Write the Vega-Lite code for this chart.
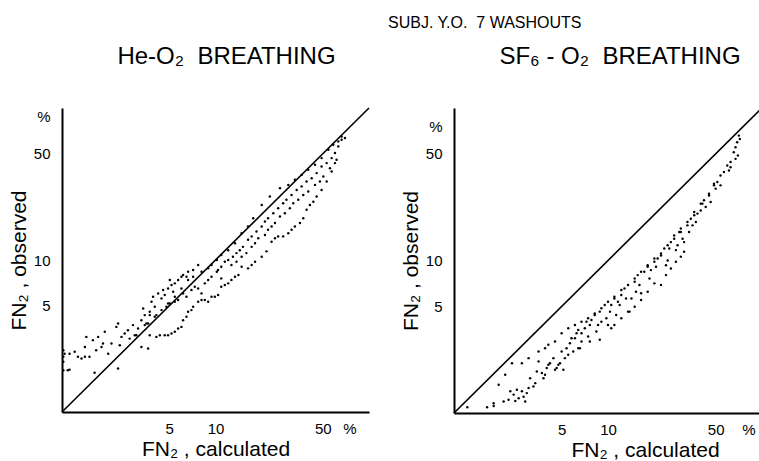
{
  "$schema": "https://vega.github.io/schema/vega-lite/v6.json",
  "background": "white",
  "padding": {"left": 8, "top": 14, "right": 0, "bottom": 0},
  "title": {"text": "SUBJ. Y.O.\u00a0 7 WASHOUTS", "anchor": "middle", "dx": 98, "fontSize": 16, "font": "Liberation Sans", "fontWeight": "normal", "color": "black", "offset": 14},
  "config": {
    "view": {"stroke": null},
    "font": "Liberation Sans",
    "title": {"font": "Liberation Sans", "fontWeight": "normal", "color": "black"},
    "axis": {"domainColor": "black", "domainWidth": 2, "ticks": false, "grid": false, "labelFontSize": 15, "labelColor": "black", "labelPadding": 9, "labelOverlap": false, "labelFlush": false, "titleFontSize": 21, "titleFontWeight": "normal", "titleColor": "black", "labelFont": "Liberation Sans", "titleFont": "Liberation Sans"},
    "axisY": {"labelPadding": 12}
  },
  "spacing": 85,
  "bounds": "flush",
  "datasets": {
    "diag": [{"x": 1, "y": 1}, {"x": 100, "y": 100}],
    "heo2": [
      {"x":1.02,"y":2.55},{"x":1.02,"y":2.31},{"x":1.02,"y":2.14},{"x":1.02,"y":1.88},{"x":1.04,"y":2.42},{"x":1.12,"y":1.90},{"x":1.12,"y":2.42},{"x":1.21,"y":2.49},{"x":1.27,"y":2.31},{"x":1.34,"y":2.25},{"x":1.41,"y":2.31},{"x":1.41,"y":2.68},{"x":1.44,"y":3.12},{"x":1.51,"y":2.31},{"x":1.59,"y":2.97},{"x":1.67,"y":2.55},{"x":1.72,"y":3.12},{"x":1.81,"y":2.68},{"x":1.85,"y":2.82},{"x":1.90,"y":3.37},{"x":2.00,"y":2.42},{"x":2.10,"y":2.82},{"x":2.26,"y":3.63},{"x":2.32,"y":3.82},{"x":2.38,"y":2.75},{"x":2.44,"y":3.12},{"x":2.56,"y":3.28},{"x":2.69,"y":3.45},{"x":2.76,"y":3.04},{"x":2.90,"y":3.73},{"x":3.05,"y":3.20},{"x":3.13,"y":3.54},{"x":3.29,"y":4.02},{"x":3.38,"y":4.80},{"x":3.46,"y":4.34},{"x":3.64,"y":3.82},{"x":3.73,"y":4.56},{"x":3.83,"y":5.31},{"x":3.92,"y":5.73},{"x":4.02,"y":4.92},{"x":4.23,"y":6.03},{"x":4.45,"y":5.59},{"x":4.56,"y":6.34},{"x":4.67,"y":5.88},{"x":4.91,"y":6.50},{"x":5.04,"y":7.38},{"x":5.17,"y":6.84},{"x":5.30,"y":6.18},{"x":5.43,"y":7.02},{"x":5.71,"y":7.38},{"x":6.00,"y":7.77},{"x":6.15,"y":7.96},{"x":6.47,"y":7.77},{"x":6.63,"y":8.38},{"x":7.15,"y":8.59},{"x":7.71,"y":9.27},
      {"x":1.09,"y":1.88},{"x":1.63,"y":1.81},{"x":2.32,"y":1.93},{"x":3.29,"y":2.68},{"x":3.64,"y":2.62},{"x":3.73,"y":3.20},{"x":4.12,"y":3.12},{"x":4.34,"y":3.20},{"x":4.67,"y":3.20},{"x":4.91,"y":3.20},{"x":5.17,"y":3.28},{"x":5.43,"y":3.37},{"x":5.71,"y":3.54},{"x":6.00,"y":3.63},{"x":6.15,"y":4.02},{"x":6.47,"y":4.23},{"x":6.63,"y":4.56},{"x":6.97,"y":4.68},{"x":7.15,"y":4.92},{"x":7.71,"y":5.31},{"x":8.11,"y":5.45},{"x":8.52,"y":5.45},{"x":8.96,"y":5.31},{"x":9.42,"y":5.73},{"x":9.90,"y":5.73},{"x":10.4,"y":5.88},{"x":10.9,"y":6.67},{"x":11.5,"y":6.84},{"x":12.1,"y":7.02},{"x":12.7,"y":7.38},{"x":13.4,"y":7.77},{"x":14.1,"y":7.96},{"x":14.8,"y":9.04},{"x":16.3,"y":8.81},{"x":17.2,"y":9.27},{"x":18.1,"y":9.75},{"x":20.0,"y":10.5},{"x":21.5,"y":11.4},{"x":23.2,"y":13.2},{"x":24.4,"y":13.9},{"x":25.6,"y":14.3},{"x":27.6,"y":14.3},{"x":29.8,"y":15.0},{"x":31.3,"y":15.8},{"x":32.9,"y":16.6},{"x":35.5,"y":17.5},{"x":37.3,"y":18.8},{"x":39.2,"y":21.4},{"x":41.2,"y":23.0},{"x":43.4,"y":24.2},{"x":45.6,"y":26.2},{"x":49.1,"y":28.9},{"x":53.0,"y":32.8},{"x":57.1,"y":38.2},
      {"x":3.46,"y":3.73},{"x":3.73,"y":4.34},{"x":4.02,"y":4.23},{"x":4.45,"y":4.68},{"x":4.79,"y":4.92},{"x":5.04,"y":5.18},{"x":5.43,"y":5.31},{"x":5.71,"y":5.45},{"x":6.15,"y":6.03},{"x":6.47,"y":5.73},{"x":6.97,"y":6.34},{"x":7.33,"y":6.67},{"x":7.71,"y":6.50},{"x":8.11,"y":6.03},{"x":8.52,"y":7.02},{"x":8.96,"y":7.38},{"x":9.42,"y":7.77},{"x":10.2,"y":8.38},{"x":10.9,"y":9.04},{"x":11.5,"y":9.75},{"x":12.1,"y":10.0},{"x":13.0,"y":10.5},{"x":13.7,"y":11.1},{"x":14.4,"y":11.6},{"x":15.1,"y":12.2},{"x":16.3,"y":13.6},{"x":17.2,"y":14.3},{"x":18.5,"y":15.4},{"x":20.0,"y":16.6},{"x":21.0,"y":17.9},{"x":22.0,"y":18.8},{"x":23.8,"y":20.3},{"x":25.6,"y":21.9},{"x":27.6,"y":23.6},{"x":29.0,"y":24.9},{"x":31.3,"y":26.8},{"x":33.8,"y":28.9},{"x":36.4,"y":30.5},{"x":39.2,"y":32.8},{"x":42.3,"y":34.5},{"x":45.6,"y":37.3},{"x":49.1,"y":41.2},{"x":53.0,"y":43.4},{"x":57.1,"y":46.8},{"x":60.0,"y":50.5},{"x":63.1,"y":55.9},{"x":66.3,"y":61.8},
      {"x":2.98,"y":3.20},{"x":3.55,"y":3.82},{"x":4.12,"y":4.34},{"x":4.91,"y":5.18},{"x":5.43,"y":5.73},{"x":6.00,"y":6.50},{"x":6.63,"y":7.38},{"x":7.15,"y":7.77},{"x":8.11,"y":8.38},{"x":8.96,"y":8.81},{"x":9.42,"y":9.27},{"x":10.2,"y":10.0},{"x":10.9,"y":10.8},{"x":12.1,"y":11.6},{"x":13.4,"y":12.9},{"x":14.8,"y":15.0},{"x":16.3,"y":16.6},{"x":17.6,"y":18.8},{"x":20.0,"y":23.0},{"x":22.6,"y":26.2},{"x":26.3,"y":29.7},{"x":29.8,"y":31.2},{"x":32.9,"y":33.7},{"x":36.4,"y":36.3},{"x":40.2,"y":39.2},{"x":44.5,"y":42.3},{"x":49.1,"y":46.8},{"x":54.3,"y":53.1},{"x":58.5,"y":57.3},{"x":63.1,"y":60.3},{"x":66.3,"y":65.0},{"x":69.7,"y":63.4},
      {"x":10.4,"y":8.59},{"x":10.9,"y":7.57},{"x":12.7,"y":9.27},{"x":13.7,"y":9.75},{"x":14.8,"y":10.5},{"x":15.9,"y":11.1},{"x":17.2,"y":12.2},{"x":18.1,"y":12.9},{"x":19.0,"y":13.9},{"x":21.0,"y":14.6},{"x":22.0,"y":15.8},{"x":23.2,"y":16.6},{"x":24.4,"y":17.5},{"x":26.3,"y":19.3},{"x":28.3,"y":20.3},{"x":30.5,"y":21.9},{"x":32.1,"y":23.6},{"x":34.6,"y":24.9},{"x":37.3,"y":26.8},{"x":40.2,"y":28.2},{"x":44.5,"y":31.2},{"x":47.9,"y":32.8},{"x":50.4,"y":35.4},{"x":55.7,"y":40.2},{"x":60.0,"y":43.4},{"x":61.5,"y":45.6}
    ],
    "sf6": [
      {"x":1.22,"y":1.09},{"x":1.64,"y":1.09},{"x":1.81,"y":1.11},{"x":1.81,"y":1.16},{"x":1.95,"y":1.53},{"x":2.15,"y":1.78},{"x":2.10,"y":1.19},{"x":2.26,"y":1.22},{"x":2.32,"y":1.39},{"x":2.44,"y":1.32},{"x":2.50,"y":1.20},{"x":2.56,"y":1.42},{"x":2.63,"y":1.25},{"x":2.76,"y":1.39},{"x":2.83,"y":1.28},{"x":2.90,"y":1.19},{"x":2.97,"y":1.35},{"x":3.05,"y":1.46},{"x":3.12,"y":1.69},{"x":3.28,"y":1.49},{"x":3.37,"y":1.57},{"x":3.45,"y":1.87},{"x":3.54,"y":2.18},{"x":3.72,"y":1.83},{"x":3.81,"y":1.69},{"x":3.90,"y":1.78},{"x":4.00,"y":1.97},{"x":4.10,"y":2.07},{"x":4.20,"y":2.12},{"x":4.42,"y":2.29},{"x":4.53,"y":1.92},{"x":4.64,"y":1.97},{"x":4.76,"y":2.07},{"x":4.88,"y":2.12},{"x":5.00,"y":2.53},{"x":5.13,"y":1.92},{"x":5.25,"y":2.29},{"x":5.38,"y":2.66},{"x":5.52,"y":2.41},{"x":5.66,"y":2.87},{"x":5.80,"y":3.09},{"x":5.95,"y":2.53},{"x":6.10,"y":3.09},{"x":6.25,"y":3.33},{"x":6.41,"y":3.50},{"x":6.57,"y":2.66},{"x":6.73,"y":3.33},{"x":7.07,"y":3.59},{"x":7.25,"y":3.97},{"x":7.43,"y":3.17},{"x":7.62,"y":3.78},{"x":7.81,"y":4.07},{"x":8.20,"y":4.39},{"x":8.41,"y":3.42},{"x":8.62,"y":3.78},{"x":8.84,"y":4.62},{"x":9.06,"y":3.97},{"x":9.52,"y":5.11},{"x":9.76,"y":4.18},{"x":10.0,"y":3.78},{"x":10.3,"y":4.62},{"x":10.5,"y":5.11},{"x":11.0,"y":5.64},{"x":11.3,"y":4.39},{"x":11.6,"y":5.37},{"x":11.9,"y":5.11},{"x":12.2,"y":5.94},{"x":12.8,"y":6.56},{"x":13.1,"y":5.64},{"x":13.5,"y":4.62},{"x":14.2,"y":5.64},{"x":14.9,"y":7.25},{"x":15.2,"y":6.24},{"x":15.6,"y":8.02},{"x":16.0,"y":6.90},{"x":16.4,"y":6.09},{"x":17.2,"y":8.43},{"x":18.1,"y":9.32},{"x":18.6,"y":7.62},{"x":19.0,"y":8.65},{"x":20.0,"y":9.80},{"x":20.5,"y":9.09},{"x":21.0,"y":10.3},{"x":22.1,"y":10.8},{"x":23.2,"y":12.0},{"x":23.8,"y":9.32},{"x":24.4,"y":10.0},{"x":25.0,"y":12.0},{"x":25.6,"y":13.2},{"x":26.9,"y":14.6},{"x":27.6,"y":11.7},{"x":28.3,"y":12.6},{"x":29.0,"y":15.4},{"x":29.7,"y":16.2},{"x":30.5,"y":13.9},{"x":31.2,"y":13.2},{"x":32.8,"y":17.0},{"x":33.6,"y":15.4},{"x":34.5,"y":18.8},{"x":35.4,"y":17.0},{"x":36.3,"y":19.8},{"x":37.2,"y":17.9},{"x":38.1,"y":20.3},{"x":40.0,"y":21.3},{"x":41.0,"y":23.6},{"x":42.0,"y":24.8},{"x":43.1,"y":22.4},{"x":45.3,"y":26.7},{"x":46.4,"y":24.2},{"x":48.8,"y":31.1},{"x":50.0,"y":29.6},{"x":51.3,"y":32.7},{"x":53.8,"y":31.1},{"x":56.6,"y":38.0},{"x":59.5,"y":42.0},{"x":61.0,"y":38.9},{"x":62.5,"y":44.2},{"x":65.6,"y":51.3},{"x":67.3,"y":55.3},{"x":69.0,"y":59.7},{"x":70.7,"y":65.9},{"x":71.8,"y":62.7},{"x":69.7,"y":48.8},
      {"x":6.41,"y":2.66},{"x":6.73,"y":2.94},{"x":7.62,"y":2.94},{"x":8.84,"y":3.02},{"x":10.5,"y":3.59},{"x":11.0,"y":3.78},{"x":12.2,"y":4.18},{"x":13.8,"y":4.62},{"x":14.9,"y":4.98},{"x":16.4,"y":5.51},{"x":18.1,"y":6.24},{"x":20.0,"y":7.08},{"x":22.1,"y":6.90},{"x":23.8,"y":8.02},{"x":25.6,"y":8.87},{"x":27.6,"y":9.80},{"x":29.7,"y":10.6},{"x":31.2,"y":11.4},
      {"x":2.38,"y":2.12},{"x":2.76,"y":2.12},{"x":3.05,"y":2.29},{"x":3.54,"y":2.53},{"x":3.90,"y":2.66},{"x":4.10,"y":2.80},{"x":4.53,"y":2.94},{"x":5.00,"y":3.33},{"x":5.52,"y":3.59},{"x":6.10,"y":3.78},{"x":6.73,"y":3.97},{"x":7.43,"y":4.18},{"x":8.20,"y":4.50},{"x":9.06,"y":4.86},{"x":10.0,"y":5.37},{"x":11.0,"y":5.79},{"x":12.2,"y":6.40},{"x":13.5,"y":6.90},{"x":14.9,"y":7.62},{"x":16.4,"y":8.43},{"x":18.1,"y":9.09},{"x":20.0,"y":10.3},{"x":22.1,"y":11.1},{"x":24.4,"y":12.6},{"x":26.9,"y":13.9},{"x":29.7,"y":15.4},{"x":32.8,"y":17.9},{"x":36.3,"y":20.8},{"x":40.0,"y":23.6},{"x":45.3,"y":27.4},{"x":48.8,"y":31.9},{"x":53.8,"y":36.1},{"x":62.5,"y":40.9},{"x":67.3,"y":46.4}
    ]
  },
  "hconcat": [
    {
      "title": {"text": "He-O₂\u00a0 BREATHING", "fontSize": 24, "offset": 36, "dx": 11},
      "width": 307,
      "height": 304,
      "encoding": {
        "x": {"field": "x", "type": "quantitative", "scale": {"type": "log", "domain": [1, 100], "nice": false},
              "axis": {"values": [5, 10, 50, 74.5], "labelExpr": "datum.value > 60 ? '%' : format(datum.value, 'd')", "title": "FN₂ , calculated", "titlePadding": 2}},
        "y": {"field": "y", "type": "quantitative", "scale": {"type": "log", "domain": [1, 100], "nice": false},
              "axis": {"values": [5, 10, 50, 88], "labelExpr": "datum.value > 60 ? '%' : format(datum.value, 'd')", "title": "FN₂ , observed", "titlePadding": 4}}
      },
      "layer": [
        {"data": {"name": "diag"}, "mark": {"type": "line", "color": "black", "strokeWidth": 1.6}, "encoding": {}},
        {"data": {"name": "heo2"}, "mark": {"type": "circle", "size": 6, "color": "black", "opacity": 1}, "encoding": {}}
      ]
    },
    {
      "title": {"text": "SF₆ - O₂\u00a0 BREATHING", "fontSize": 24, "offset": 36, "dx": 12},
      "width": 308,
      "height": 305,
      "encoding": {
        "x": {"field": "x", "type": "quantitative", "scale": {"type": "log", "domain": [1, 100], "nice": false},
              "axis": {"values": [5, 10, 50, 81.6], "labelExpr": "datum.value > 60 ? '%' : format(datum.value, 'd')", "title": "FN₂ , calculated", "titlePadding": 2, "titleX": 191}},
        "y": {"field": "y", "type": "quantitative", "scale": {"type": "log", "domain": [1, 100], "nice": false},
              "axis": {"values": [5, 10, 50, 75.5], "labelExpr": "datum.value > 60 ? '%' : format(datum.value, 'd')", "title": "FN₂ , observed", "titlePadding": 4}}
      },
      "layer": [
        {"data": {"name": "diag"}, "mark": {"type": "line", "color": "black", "strokeWidth": 1.6}, "encoding": {}},
        {"data": {"name": "sf6"}, "mark": {"type": "circle", "size": 6, "color": "black", "opacity": 1}, "encoding": {}}
      ]
    }
  ]
}
